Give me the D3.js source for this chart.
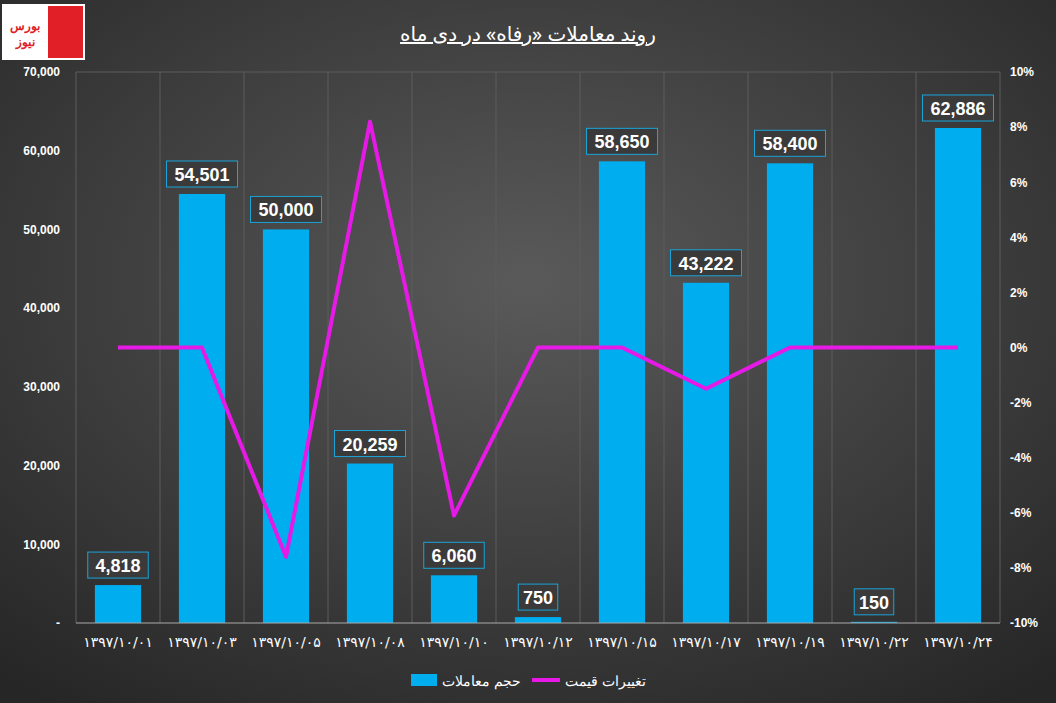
<!DOCTYPE html>
<html><head><meta charset="utf-8">
<script src="https://cdn.jsdelivr.net/npm/d3@7"></script>
<style>body{margin:0;background:#333}svg{display:block}</style>
</head><body>
<svg id="chart" width="1056" height="703"></svg>
<script>
// data
const dates = ["۱۳۹۷/۱۰/۰۱","۱۳۹۷/۱۰/۰۳","۱۳۹۷/۱۰/۰۵","۱۳۹۷/۱۰/۰۸","۱۳۹۷/۱۰/۱۰","۱۳۹۷/۱۰/۱۲","۱۳۹۷/۱۰/۱۵","۱۳۹۷/۱۰/۱۷","۱۳۹۷/۱۰/۱۹","۱۳۹۷/۱۰/۲۲","۱۳۹۷/۱۰/۲۴"];
const volumes = [4818, 54501, 50000, 20259, 6060, 750, 58650, 43222, 58400, 150, 62886];
const priceChange = [0, 0, -7.6, 8.2, -6.1, 0, 0, -1.5, 0, 0, 0];
const leftTicks = [0, 10000, 20000, 30000, 40000, 50000, 60000, 70000];
const rightTicks = [-10, -8, -6, -4, -2, 0, 2, 4, 6, 8, 10];

const W = 1056, H = 703;
const margin = {top: 72, right: 56, bottom: 80, left: 76};
const iw = W - margin.left - margin.right, ih = H - margin.top - margin.bottom;

const svg = d3.select("#chart");
const defs = svg.append("defs");
const grad = defs.append("radialGradient").attr("id", "bg").attr("cx", "50%").attr("cy", "40%").attr("r", "75%");
grad.append("stop").attr("offset", "0%").attr("stop-color", "#5a5a5a");
grad.append("stop").attr("offset", "100%").attr("stop-color", "#262626");
svg.append("rect").attr("width", W).attr("height", H).attr("fill", "url(#bg)");

// logo
const logo = svg.append("g").attr("transform", "translate(2,4)");
logo.append("rect").attr("width", 83).attr("height", 56).attr("fill", "#fff");
logo.append("rect").attr("x", 46).attr("y", 2).attr("width", 35).attr("height", 52).attr("fill", "#e02026");
logo.append("text").attr("x", 23).attr("y", 26).attr("text-anchor", "middle")
  .attr("fill", "#e02026").style("font", "bold 12px 'Noto Sans'").text("بورس");
logo.append("text").attr("x", 23).attr("y", 42).attr("text-anchor", "middle")
  .attr("fill", "#e02026").style("font", "bold 12px 'Noto Sans'").text("نیوز");

// title
svg.append("text").attr("x", 528).attr("y", 41).attr("text-anchor", "middle")
  .attr("fill", "#fff").attr("text-decoration", "underline")
  .style("font", "20px 'Noto Sans', 'DejaVu Sans'").text("روند معاملات «رفاه» در دی ماه");

const g = svg.append("g").attr("transform", `translate(${margin.left},${margin.top})`);

const x = d3.scaleBand().domain(dates).range([0, iw]).paddingInner(0.45).paddingOuter(0.225);
const xb = d3.scaleBand().domain(dates).range([0, iw]);
const y = d3.scaleLinear().domain([0, 70000]).range([ih, 0]);
const y2 = d3.scaleLinear().domain([-10, 10]).range([ih, 0]);

// vertical gridlines at category boundaries
g.selectAll(".vg").data(dates.concat(["end"])).join("line")
  .attr("x1", (d, i) => i * xb.bandwidth()).attr("x2", (d, i) => i * xb.bandwidth())
  .attr("y1", 0).attr("y2", ih).attr("stroke", "#5c5c5c").attr("stroke-width", 1);
g.append("line").attr("x1", 0).attr("x2", iw).attr("y1", 0).attr("y2", 0).attr("stroke", "#5c5c5c");

// bars
g.selectAll(".bar").data(volumes).join("rect")
  .attr("x", (d, i) => x(dates[i])).attr("width", x.bandwidth())
  .attr("y", d => y(d)).attr("height", d => ih - y(d)).attr("fill", "#00aeef");

g.append("line").attr("x1", 0).attr("x2", iw).attr("y1", ih).attr("y2", ih).attr("stroke", "#aaa");

// price change line
const line = d3.line().x((d, i) => xb(dates[i]) + xb.bandwidth() / 2).y(d => y2(d));
g.append("path").datum(priceChange).attr("fill", "none").attr("stroke", "#e619e6")
  .attr("stroke-width", 4).attr("stroke-linejoin", "round").attr("d", line);

// data labels
const fmt = d3.format(",");
volumes.forEach((v, i) => {
  const cx = x(dates[i]) + x.bandwidth() / 2, cy = y(v) - 20;
  const t = fmt(v), w = t.length * 10.5 + 8;
  g.append("rect").attr("x", cx - w / 2).attr("y", cy - 13).attr("width", w).attr("height", 26)
    .attr("fill", "#3a3a3a").attr("stroke", "#1aa3d9").attr("stroke-width", 1);
  g.append("text").attr("x", cx).attr("y", cy + 7).attr("text-anchor", "middle")
    .attr("fill", "#fff").style("font", "bold 18px 'Liberation Sans', Arial").text(t);
});

// axes
const axL = g.append("g").call(d3.axisLeft(y).tickValues(leftTicks).tickSize(0).tickPadding(16)
  .tickFormat(d => d === 0 ? "-" : fmt(d)));
const axR = g.append("g").attr("transform", `translate(${iw},0)`)
  .call(d3.axisRight(y2).tickValues(rightTicks).tickSize(0).tickPadding(10).tickFormat(d => d + "%"));
[axL, axR].forEach(a => {
  a.select(".domain").remove();
  a.selectAll("text").attr("fill", "#fff").style("font", "bold 12px 'Liberation Sans', Arial");
});
const axX = g.append("g").attr("transform", `translate(0,${ih})`).call(d3.axisBottom(xb).tickSize(0).tickPadding(14));
axX.select(".domain").remove();
axX.selectAll("text").attr("fill", "#fff").style("font", "14px 'DejaVu Sans'")
  .style("letter-spacing", "1px").attr("direction", "ltr");

// legend
const lg = svg.append("g");
lg.append("rect").attr("x", 411).attr("y", 674).attr("width", 26).attr("height", 12).attr("fill", "#00aeef");
lg.append("text").attr("x", 442).attr("y", 686).attr("fill", "#fff").style("font", "14px 'Noto Sans'")
  .attr("direction", "rtl").attr("text-anchor", "end").text("حجم معاملات");
lg.append("line").attr("x1", 532).attr("x2", 560).attr("y1", 680).attr("y2", 680).attr("stroke", "#e619e6").attr("stroke-width", 4);
lg.append("text").attr("x", 565).attr("y", 686).attr("fill", "#fff").style("font", "14px 'Noto Sans'")
  .attr("direction", "rtl").attr("text-anchor", "end").text("تغییرات قیمت");
</script>
</body></html>
